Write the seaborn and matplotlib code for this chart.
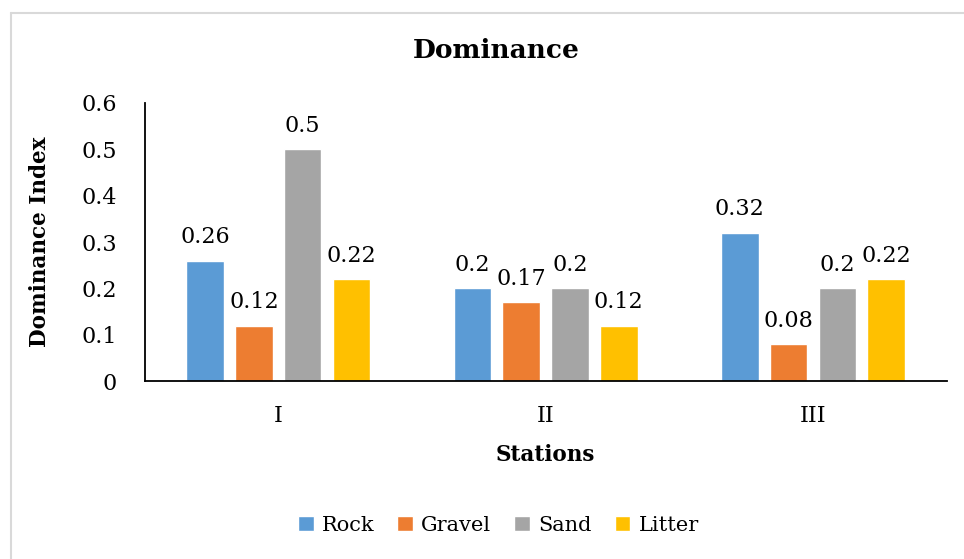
import pandas as pd
import matplotlib.pyplot as plt
import seaborn as sns
from matplotlib.lines import Line2D

stations = ["I", "II", "III"]
substrates = ["Rock", "Gravel", "Sand", "Litter"]
rock = [0.26, 0.20, 0.32]
gravel = [0.12, 0.17, 0.08]
sand = [0.50, 0.20, 0.20]
litter = [0.22, 0.12, 0.22]
colors = ["#5B9BD5", "#ED7D31", "#A5A5A5", "#FFC000"]

df = pd.DataFrame({
    "station": stations * 4,
    "substrate": [s for s in substrates for _ in stations],
    "value": rock + gravel + sand + litter,
})

sns.set_style("white")
plt.rcParams["font.family"] = ["DejaVu Serif"]
plt.rcParams["text.color"] = "black"
plt.rcParams["axes.labelcolor"] = "black"
plt.rcParams["xtick.color"] = "black"
plt.rcParams["ytick.color"] = "black"

fig = plt.figure(figsize=(9.64, 5.59), dpi=100)
ax = fig.add_axes([0.150, 0.318, 0.832, 0.498])

sns.barplot(data=df, x="station", y="value", hue="substrate", order=stations,
            hue_order=substrates, palette=colors, width=0.73, gap=0.23,
            saturation=1, errorbar=None, ax=ax)

for cont in ax.containers:
    ax.bar_label(cont, labels=[f"{v:g}" for v in cont.datavalues],
                 padding=9, fontsize=16)

ax.set_ylim(0, 0.6)
ax.set_yticks([0, 0.1, 0.2, 0.3, 0.4, 0.5, 0.6])
ax.set_yticklabels(["0", "0.1", "0.2", "0.3", "0.4", "0.5", "0.6"])
ax.set_xlim(-0.5, 2.5)
ax.tick_params(axis="both", length=0, labelsize=16)
ax.tick_params(axis="y", pad=20)
ax.tick_params(axis="x", pad=17)
for side in ["top", "right"]:
    ax.spines[side].set_visible(False)
for side in ["left", "bottom"]:
    ax.spines[side].set_color("black")
    ax.spines[side].set_linewidth(1.3)

ax.set_xlabel("Stations", fontsize=15.5, fontweight="bold", labelpad=12)
ax.set_ylabel("Dominance Index", fontsize=15.5, fontweight="bold", labelpad=22)
ax.set_title("Dominance", fontsize=19, fontweight="bold", pad=32, x=0.438)

handles, labels = ax.get_legend_handles_labels()
ax.legend_.remove()
fig.legend(handles, labels, loc="center", bbox_to_anchor=(0.517, 0.06), ncol=4,
           frameon=False, fontsize=15, handlelength=0.75, handleheight=0.75,
           handletextpad=0.4, columnspacing=1.1)

# light chart-area border (top and left edges visible in the crop)
fig.add_artist(Line2D([0.0118, 1.0], [0.977, 0.977], transform=fig.transFigure,
                      color="#d9d9d9", lw=1.5))
fig.add_artist(Line2D([0.0118, 0.0118], [0.0, 0.977], transform=fig.transFigure,
                      color="#d9d9d9", lw=1.5))

fig.savefig("out.png", dpi=100)
